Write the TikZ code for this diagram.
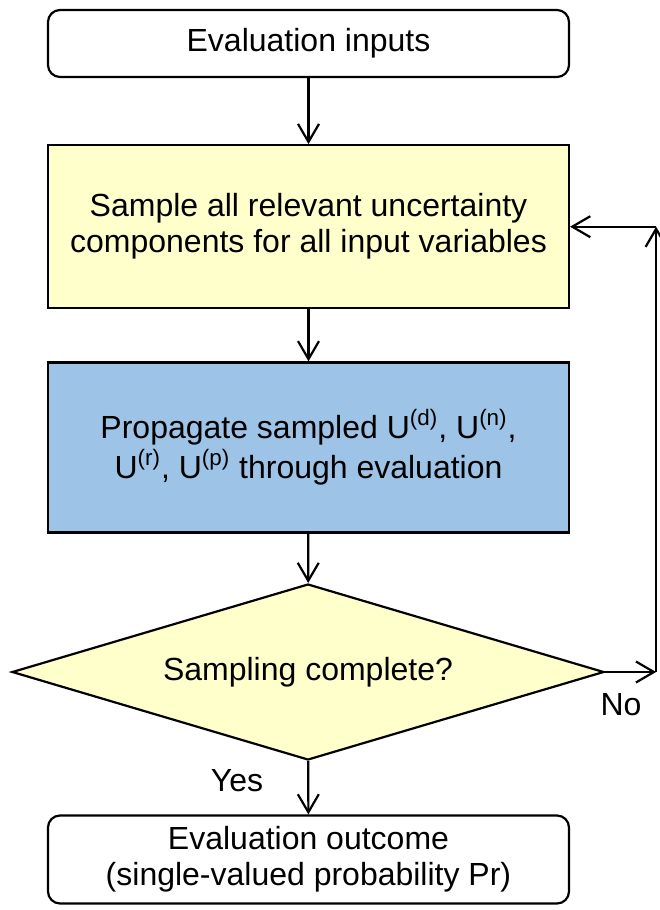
\documentclass[tikz,border=0pt]{standalone}
\usepackage{fontspec}
\setmainfont{Liberation Sans}
\usepackage{tikz}
\usetikzlibrary{arrows.meta,positioning,shapes.geometric}
\definecolor{paleyellow}{HTML}{FFFFCC}
\definecolor{paleblue}{HTML}{9DC3E6}
\tikzset{>={Straight Barb[length=9pt,width=10.5pt,line width=1.1pt]}}
\tikzset{
  box/.style={draw, line width=1.1pt, align=center, minimum width=260.5pt, inner sep=4pt,
    font=\fontsize{16}{18}\selectfont},
  rbox/.style={box, rounded corners=6pt, fill=white},
  decision/.style={diamond, draw, line width=1.1pt, fill=paleyellow, aspect=3.36,
    minimum width=296pt, minimum height=88pt, inner sep=0pt, font=\fontsize{16}{18}\selectfont},
  arrow/.style={->, line width=1.1pt},
  tag/.style={font=\fontsize{16}{18}\selectfont},
}

\begin{document}
\begin{tikzpicture}[x=0.5pt,y=-0.5pt]
\useasboundingbox[fill=white] (0,0) rectangle (659,910);
\node[rbox, minimum height=33.5pt] (inputs) at (308.5,43.5) {Evaluation inputs};
\node[box, fill=paleyellow, minimum height=81.5pt, below=33pt of inputs] (sample)
  {Sample all relevant uncertainty\\components for all input variables};
\node[box, fill=paleblue, minimum height=85pt, below=26pt of sample] (propagate)
  {Propagate sampled U\textsuperscript{(d)}, U\textsuperscript{(n)},\\[2pt]
   U\textsuperscript{(r)}, U\textsuperscript{(p)} through evaluation};
\node[decision] (done) at (308,672) {Sampling complete?};
\node[rbox, minimum height=44pt] (outcome) at (308.5,859.5)
  {Evaluation outcome\\(single-valued probability Pr)};

\path (done.east) ++(25.5pt,0) coordinate (loopdown);
\coordinate (loopup) at (loopdown |- sample.east);

\draw[arrow] (inputs) -- (sample);
\draw[arrow] (sample) -- (propagate);
\draw[arrow] (propagate) -- (done);
\draw[arrow] (done) -- (outcome);

% No branch back to sampling
\draw[arrow] (done.east) -- (loopdown);
\draw[arrow] (loopdown) -- (loopup);
\draw[arrow] (loopup) -- (sample.east);

\node[tag] (yes) at (237,781) {Yes};
\node[tag] (no) at (621,705) {No};
\end{tikzpicture}
\end{document}
